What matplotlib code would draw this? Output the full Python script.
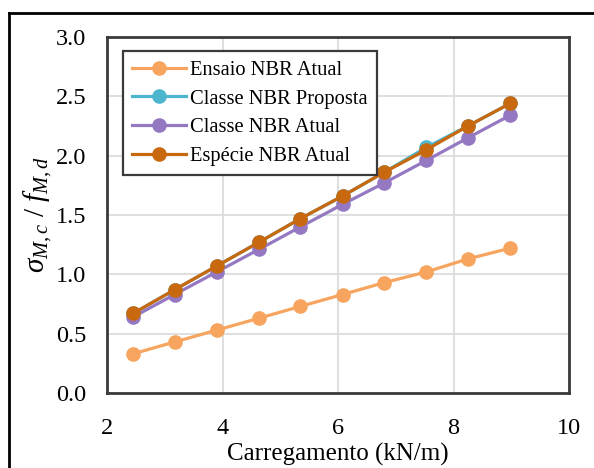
import matplotlib
matplotlib.use("Agg")
import matplotlib.pyplot as plt
from matplotlib.lines import Line2D

plt.rcParams['font.family'] = ['Liberation Serif', 'DejaVu Serif']
plt.rcParams['mathtext.fontset'] = 'custom'
plt.rcParams['mathtext.rm'] = 'Liberation Serif'
plt.rcParams['mathtext.it'] = 'Liberation Serif:italic'

# Load (kN/m) and stress ratio for each design approach
carregamento = [2.45, 3.17, 3.90, 4.63, 5.35, 6.08, 6.80, 7.53, 8.25, 8.98]
ensaio_nbr_atual = [0.33, 0.43, 0.53, 0.63, 0.73, 0.83, 0.93, 1.02, 1.13, 1.22]
classe_nbr_proposta = [0.67, 0.87, 1.07, 1.27, 1.47, 1.66, 1.86, 2.07, 2.25, 2.44]
classe_nbr_atual = [0.64, 0.83, 1.02, 1.21, 1.40, 1.59, 1.77, 1.96, 2.15, 2.34]
especie_nbr_atual = [0.67, 0.87, 1.07, 1.27, 1.47, 1.66, 1.86, 2.05, 2.25, 2.44]

series = [
    ("Ensaio NBR Atual", ensaio_nbr_atual, "#F6A45E"),
    ("Classe NBR Proposta", classe_nbr_proposta, "#4CB6CF"),
    ("Classe NBR Atual", classe_nbr_atual, "#9479C2"),
    ("Espécie NBR Atual", especie_nbr_atual, "#C8690F"),
]

x_ticks = [2, 4, 6, 8, 10]
y_ticks = [0.0, 0.5, 1.0, 1.5, 2.0, 2.5, 3.0]

fig = plt.figure(figsize=(5.94, 4.68), dpi=100)
ax = fig.add_axes([107 / 594, 1 - 393 / 468, 462 / 594, 356 / 468])

for name, vals, color in series:
    ax.plot(carregamento, vals, color=color, lw=2.3, marker='o', ms=9.5,
            label=name, zorder=3)

ax.set_xlim(2, 10)
ax.set_ylim(0, 3)
ax.set_xticks(x_ticks)
ax.set_yticks(y_ticks)
ax.set_yticklabels([f"{v:.1f}" for v in y_ticks])
ax.tick_params(axis='both', length=0, labelsize=17.5)
ax.tick_params(axis='x', pad=18)
ax.tick_params(axis='y', pad=15)
ax.grid(True, color='#DCDCDC', lw=1.3, zorder=0)
for sp in ax.spines.values():
    sp.set_color('#3A3A3A')
    sp.set_linewidth(2)

ax.set_xlabel("Carregamento (kN/m)", fontsize=18, labelpad=3)
ax.set_ylabel(r"$\sigma_{M,c}\ /\ f_{M,d}$", fontsize=21, labelpad=1)

leg = ax.legend(loc='upper left', bbox_to_anchor=(0.035, 0.96), fontsize=14.8,
                handlelength=2.6, labelspacing=0.45, handletextpad=0.2,
                borderpad=0.45, borderaxespad=0, fancybox=False, framealpha=1)
leg.get_frame().set_edgecolor('#3A3A3A')
leg.get_frame().set_linewidth(1.6)

# outer frame around the figure
fig.add_artist(Line2D([9 / 594, 9 / 594], [1 - 13 / 468, 0], color='black',
                      lw=2, transform=fig.transFigure))
fig.add_artist(Line2D([9 / 594, 1], [1 - 13 / 468, 1 - 13 / 468], color='black',
                      lw=2, transform=fig.transFigure))

fig.savefig("out.png", dpi=100)
